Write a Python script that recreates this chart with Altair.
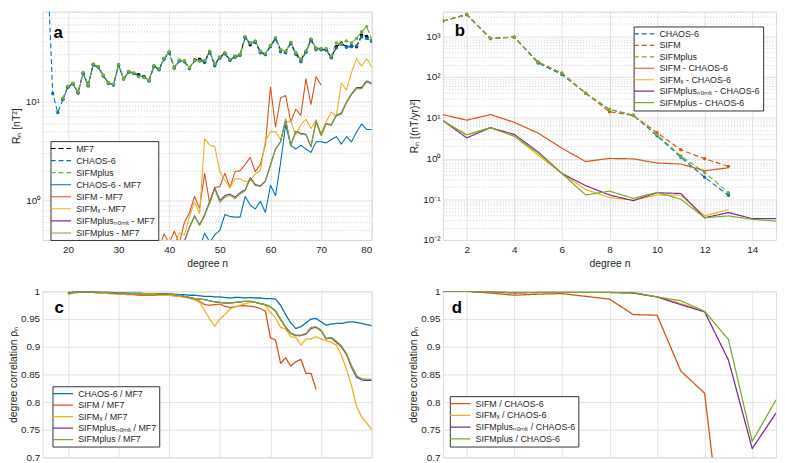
import altair as alt
import pandas as pd

FONT = "Liberation Sans"
TXT = "#262626"
GRID_MAJOR = "#dcdcdc"
GRID_MINOR = "#c4c4c4"
BLUE, ORANGE, YELLOW, PURPLE, GREEN, BLACK = "#0072BD", "#D95319", "#EDB120", "#7E2F8E", "#77AC30", "#000000"

# ---------------- panel a ----------------
a_n_mf7 = list(range(19, 81))
a_mf7 = [10.5, 14.0, 15.0, 12.2, 19.2, 14.3, 23.5, 22.1, 18.1, 15.3,
         14.7, 23.2, 16.8, 19.8, 19.1, 18.5, 17.8, 16.2, 22.6, 21.0,
         26.9, 31.2, 21.8, 25.7, 25.3, 21.5, 26.0, 26.5, 25.5, 31.6,
         23.5, 27.7, 30.5, 26.2, 28.3, 29.4, 44.2, 37.0, 40.0, 31.6,
         29.8, 36.1, 43.3, 32.8, 31.6, 38.9, 30.5, 26.2, 31.6, 42.0,
         34.0, 33.5, 33.0, 27.7, 35.4, 38.6, 35.4, 36.0, 35.4, 46.5,
         45.0, 41.0]
a_n_chaos = list(range(16, 81))
a_chaos = [200.0, 12.0, 7.7,
           10.4, 13.8, 15.0, 12.1, 19.0, 14.5, 23.2, 22.0, 18.0, 15.2,
           14.6, 23.0, 16.9, 19.6, 19.0, 18.0, 17.6, 16.0, 22.4, 20.8,
           26.5, 30.8, 21.6, 25.5, 25.0, 21.2, 25.5, 25.8, 24.5, 31.0,
           22.8, 27.2, 30.0, 25.8, 27.8, 29.0, 43.5, 38.6, 39.0, 30.8,
           29.5, 35.5, 42.5, 31.5, 30.8, 38.0, 29.8, 25.0, 31.0, 41.0,
           33.0, 33.0, 32.8, 27.4, 34.5, 37.5, 35.0, 35.5, 36.0, 44.5,
           43.0, 40.0]
a_n_sifmplus = list(range(19, 81))
a_sifmplus = [10.7, 14.2, 15.2, 12.4, 19.5, 14.6, 23.8, 22.4, 18.3, 15.5,
              14.9, 23.5, 17.0, 20.0, 19.3, 17.6, 17.3, 16.4, 22.9, 21.3,
              27.2, 31.5, 22.0, 26.0, 25.6, 21.8, 25.8, 25.3, 25.8, 32.0,
              23.8, 28.0, 30.8, 26.5, 28.6, 29.8, 44.8, 38.6, 40.5, 32.0,
              30.2, 36.5, 43.8, 33.2, 32.0, 39.3, 30.8, 26.5, 32.0, 42.5,
              34.3, 34.0, 34.0, 28.5, 38.6, 38.0, 40.6, 39.0, 43.0, 50.2,
              56.5, 42.0]
a_n_dchaos = list(range(46, 81))
a_dchaos = [0.33, 0.47, 0.38, 0.45, 0.50, 0.72, 0.69, 0.68, 0.68, 1.10,
            0.90, 0.82, 0.98, 0.76, 1.42, 1.12, 2.40, 5.80, 3.60, 3.30,
            3.60, 3.30, 3.05, 3.90, 3.90, 3.80, 4.10, 4.40, 3.70, 4.40,
            3.90, 4.90, 5.90, 5.20, 5.20]
a_n_dsifm = list(range(38, 71))
a_dsifm = [0.33, 0.46, 0.37, 0.49, 0.37, 0.60, 0.75, 1.10, 0.83, 1.88,
           0.93, 1.35, 1.38, 1.88, 1.35, 1.95, 2.00, 2.30, 2.72, 1.95,
           2.30, 3.66, 14.0, 5.50, 10.8, 11.4, 6.20, 8.30, 7.20, 16.8,
           9.30, 17.7, 14.5]
a_n_dsifmx = list(range(40, 81))
a_dsifmx = [0.42, 0.36, 0.47, 0.45, 0.69, 0.96, 0.74, 4.20, 3.60, 3.50,
            1.95, 1.60, 1.35, 1.65, 1.65, 1.55, 1.60, 1.85, 2.00, 4.00,
            4.90, 4.95, 4.10, 6.20, 6.30, 4.60, 5.80, 6.60, 5.30, 6.50,
            4.75, 6.20, 7.80, 7.10, 15.3, 13.0, 19.5, 26.9, 22.5, 26.9,
            22.0]
a_n_dplus = list(range(43, 81))
a_dnomlt = [0.39, 0.54, 0.70, 0.57, 0.72, 0.98, 1.34, 1.00, 1.12, 1.16,
            1.08, 1.20, 1.28, 1.70, 1.45, 1.40, 1.58, 2.30, 3.30, 3.90,
            6.45, 3.60, 4.98, 4.75, 4.65, 3.50, 6.20, 4.55, 5.95, 5.80,
            7.20, 7.60, 9.80, 11.9, 13.7, 13.8, 16.0, 15.2]
a_dplus = [0.38, 0.53, 0.69, 0.56, 0.70, 0.95, 1.30, 0.96, 1.08, 1.13,
           1.04, 1.16, 1.25, 1.65, 1.42, 1.38, 1.56, 2.26, 3.28, 3.95,
           6.65, 3.53, 4.94, 4.66, 4.58, 3.46, 6.40, 4.50, 5.90, 5.70,
           7.10, 7.40, 9.60, 11.6, 13.4, 13.4, 15.6, 14.8]

# ---------------- panel b ----------------
b_n13 = list(range(1, 14))
b_n15 = list(range(1, 16))
b_chaos = [2350, 3390, 877, 946, 220, 115, 39.7, 16.0, 11.5, 3.6, 1.07, 0.346, 0.125]
b_sifm = [2350, 3390, 877, 946, 232, 125, 39.7, 14.0, 11.3, 4.3, 1.63, 0.98, 0.64]
b_sifmplus = [2350, 3390, 877, 946, 232, 122, 40.0, 15.9, 11.5, 3.8, 1.15, 0.45, 0.145]
b_dsifm = [11.9, 8.7, 11.9, 7.7, 4.2, 1.79, 0.84, 1.0, 0.98, 0.77, 0.73, 0.50, 0.59]
b_dsifmx = [8.5, 3.8, 5.7, 3.5, 1.2, 0.43, 0.173, 0.11, 0.095, 0.127, 0.125, 0.039, 0.056]
b_dnomlt = [8.5, 3.2, 5.7, 3.9, 1.45, 0.43, 0.215, 0.127, 0.092, 0.144, 0.138, 0.035, 0.047, 0.0335, 0.0335]
b_dplus = [8.3, 3.8, 5.7, 3.5, 1.36, 0.43, 0.127, 0.158, 0.105, 0.147, 0.10, 0.035, 0.039, 0.032, 0.029]

# ---------------- panel c ----------------
c_n = list(range(20, 81))
c_n_sifm = list(range(20, 70))
c_chaos = [0.998, 0.999, 0.999, 0.999, 0.999, 0.999, 0.999, 0.998, 0.998, 0.998, 0.997,
           0.997, 0.997, 0.997, 0.997, 0.996, 0.996, 0.996, 0.996, 0.996, 0.995,
           0.995, 0.994, 0.994, 0.993, 0.993, 0.992, 0.991, 0.991, 0.990, 0.990,
           0.989, 0.988, 0.989, 0.989, 0.988, 0.989, 0.988, 0.988, 0.987, 0.987,
           0.986, 0.975, 0.958, 0.943, 0.933, 0.936, 0.943, 0.950, 0.951, 0.945,
           0.939, 0.941, 0.942, 0.942, 0.944, 0.945, 0.944, 0.942, 0.940, 0.938]
c_sifm = [0.995, 0.997, 0.998, 0.999, 0.998, 0.998, 0.997, 0.997, 0.996, 0.996, 0.995,
          0.995, 0.994, 0.994, 0.993, 0.993, 0.993, 0.993, 0.993, 0.993, 0.993,
          0.992, 0.991, 0.990, 0.988, 0.985, 0.982, 0.976, 0.975, 0.976, 0.977,
          0.973, 0.971, 0.972, 0.974, 0.974, 0.973, 0.972, 0.969, 0.964, 0.916,
          0.912, 0.870, 0.880, 0.865, 0.873, 0.877, 0.852, 0.852, 0.823]
c_sifmx = [0.996, 0.998, 0.998, 0.999, 0.999, 0.998, 0.998, 0.997, 0.997, 0.996, 0.996,
           0.995, 0.995, 0.995, 0.994, 0.994, 0.994, 0.994, 0.993, 0.993, 0.993,
           0.992, 0.991, 0.990, 0.988, 0.985, 0.980, 0.965, 0.950, 0.937, 0.950,
           0.958, 0.968, 0.972, 0.975, 0.978, 0.980, 0.980, 0.978, 0.975, 0.962,
           0.952, 0.935, 0.932, 0.918, 0.917, 0.903, 0.914, 0.914, 0.918, 0.914,
           0.911, 0.908, 0.903, 0.885, 0.860, 0.830, 0.792, 0.773, 0.762, 0.750]
c_nomlt = [0.997, 0.998, 0.999, 0.999, 0.999, 0.999, 0.998, 0.998, 0.998, 0.997, 0.997,
           0.997, 0.996, 0.996, 0.996, 0.996, 0.996, 0.996, 0.995, 0.995, 0.995,
           0.994, 0.993, 0.991, 0.989, 0.987, 0.986, 0.985, 0.983, 0.981, 0.980,
           0.979, 0.979, 0.980, 0.981, 0.982, 0.982, 0.980, 0.978, 0.976, 0.972,
           0.964, 0.949, 0.935, 0.924, 0.920, 0.920, 0.923, 0.933, 0.935, 0.929,
           0.914, 0.916, 0.908, 0.900, 0.886, 0.863, 0.845, 0.840, 0.839, 0.839]
c_plus = [0.997, 0.998, 0.999, 0.999, 0.999, 0.999, 0.998, 0.998, 0.998, 0.997, 0.997,
          0.997, 0.996, 0.996, 0.996, 0.996, 0.996, 0.996, 0.995, 0.995, 0.995,
          0.994, 0.993, 0.991, 0.989, 0.987, 0.986, 0.985, 0.983, 0.981, 0.980,
          0.979, 0.979, 0.980, 0.981, 0.982, 0.982, 0.980, 0.978, 0.976, 0.972,
          0.965, 0.950, 0.936, 0.925, 0.921, 0.921, 0.924, 0.935, 0.936, 0.930,
          0.915, 0.917, 0.910, 0.902, 0.888, 0.866, 0.848, 0.842, 0.841, 0.841]

# ---------------- panel d ----------------
d_n12 = list(range(1, 13))
d_n13 = list(range(1, 14))
d_n15 = list(range(1, 16))
d_sifm = [1.0, 1.0, 0.997, 0.993, 0.995, 0.996, 0.991, 0.986, 0.958, 0.957, 0.856, 0.816, 0.45]
d_sifmx = [1.0, 1.0, 0.999, 0.998, 0.998, 0.998, 0.998, 0.998, 0.997, 0.990, 0.978, 0.963]
d_nomlt = [1.0, 1.0, 0.999, 0.997, 0.998, 0.998, 0.998, 0.998, 0.997, 0.990, 0.976, 0.963, 0.876, 0.716, 0.780]
d_plus = [1.0, 1.0, 0.999, 0.998, 0.998, 0.998, 0.998, 0.998, 0.998, 0.990, 0.983, 0.964, 0.913, 0.729, 0.804]

panel_labels = ["a", "b", "c", "d"]

SUBX = "SIFM\u2093"
NOMLT = "SIFMplus\u2099\u2092\u2098\u2097\u209c"

DASH = [5, 3]
SOLID = [1, 0]


def long_df(defs):
    rows = []
    for name, ns, vals in defs:
        for n, v in zip(ns, vals):
            rows.append({"n": n, "value": v, "series": name})
    return pd.DataFrame(rows)


def log_values(lo, hi, kmin, kmax):
    out = []
    for k in range(kmin, kmax + 1):
        for m in range(1, 10):
            v = round(m * 10.0 ** k, 8)
            if lo - 1e-12 <= v <= hi + 1e-12:
                out.append(v)
    return out


def y_log_axis(major, labels, values, title):
    test = " || ".join(f"datum.value == {m}" for m in major)
    expr = " : ".join(f"datum.value == {m} ? '{lab}'" for m, lab in zip(major, labels)) + " : ''"
    return alt.Axis(values=values, labelExpr=expr, labelOverlap=False, grid=True,
                    gridColor={"condition": {"test": test, "value": GRID_MAJOR}, "value": GRID_MINOR},
                    gridDash={"condition": {"test": test, "value": []}, "value": [1, 2]},
                    labelFontSize={"condition": {"test": test, "value": 10}, "value": 0},
                    gridWidth=0.8, ticks=False, domain=False, title=title,
                    titleFontSize=10.5, labelPadding=3, titlePadding=3,
                    labelColor=TXT, titleColor=TXT, titleFontWeight="normal", labelFont=FONT, titleFont=FONT)


def y_lin_axis(title):
    return alt.Axis(values=[0.7, 0.75, 0.8, 0.85, 0.9, 0.95, 1.0],
                    labelExpr="format(datum.value, '.2~f')", grid=True, gridColor=GRID_MAJOR,
                    gridWidth=0.8, ticks=False, domain=False, title=title,
                    labelFontSize=10, titleFontSize=10.5, labelPadding=3, titlePadding=2,
                    labelColor=TXT, titleColor=TXT, titleFontWeight="normal", labelFont=FONT, titleFont=FONT)


def x_axis(values, show):
    if show:
        return alt.Axis(values=values, grid=True, gridColor=GRID_MAJOR, gridWidth=0.8, ticks=False,
                        domain=False, title="degree n", labelFontSize=10, titleFontSize=10.5,
                        labelPadding=5, titlePadding=4, labelColor=TXT, titleColor=TXT,
                        titleFontWeight="normal", labelFont=FONT, titleFont=FONT, labelAngle=0)
    return alt.Axis(values=values, grid=True, gridColor=GRID_MAJOR, gridWidth=0.8, ticks=False,
                    domain=False, labels=False, title=None)


def make_legend(x, y, row_pad):
    return alt.Legend(title=None, orient="none", legendX=x, legendY=y, fillColor="white",
                      strokeColor="#333333", padding=2, cornerRadius=0,
                      symbolType="M-2.3,0H2.3", symbolSize=81, symbolOffset=3, labelOffset=10,
                      labelFontSize=9, labelFont=FONT, labelColor=TXT, rowPadding=row_pad,
                      labelLimit=300, symbolOpacity=1)


def panel(df, names, colors, dashes, widths, xscale, yscale, xax, yax, legend, dotted, label, lxy, w, h):
    lines = alt.Chart(df).mark_line(clip=True, strokeJoin="round").encode(
        x=alt.X("n:Q", scale=xscale, axis=xax),
        y=alt.Y("value:Q", scale=yscale, axis=yax),
        color=alt.Color("series:N", scale=alt.Scale(domain=names, range=colors), legend=legend),
        strokeDash=alt.StrokeDash("series:N", scale=alt.Scale(domain=names, range=dashes), legend=legend),
        strokeWidth=alt.StrokeWidth("series:N", scale=alt.Scale(domain=names, range=widths), legend=legend),
    )
    layers = [lines]
    for name, col in dotted:
        pts = alt.Chart(df[df["series"] == name]).mark_point(filled=True, size=12, clip=True, opacity=1, strokeWidth=0).encode(
            x=alt.X("n:Q", scale=xscale, axis=xax),
            y=alt.Y("value:Q", scale=yscale, axis=yax),
            color=alt.value(col),
        )
        layers.append(pts)
    txt = alt.Chart(pd.DataFrame({"label": [label]})).mark_text(
        font=FONT, fontSize=17, fontWeight="bold", color="#000000", align="left", baseline="alphabetic"
    ).encode(x=alt.value(lxy[0]), y=alt.value(lxy[1]), text="label:N")
    layers.append(txt)
    return alt.layer(*layers).properties(width=w, height=h)


W_L, W_R, H_T, H_B = 333, 337, 231, 168

# panel a
a_names = ["MF7", "CHAOS-6", "SIFMplus", "CHAOS-6 - MF7", "SIFM - MF7", SUBX + " - MF7",
           NOMLT + " - MF7", "SIFMplus - MF7"]
df_a = long_df([
    ("MF7", a_n_mf7, a_mf7),
    ("CHAOS-6", a_n_chaos, a_chaos),
    ("SIFMplus", a_n_sifmplus, a_sifmplus),
    ("CHAOS-6 - MF7", a_n_dchaos, a_dchaos),
    ("SIFM - MF7", a_n_dsifm, a_dsifm),
    (SUBX + " - MF7", a_n_dsifmx, a_dsifmx),
    (NOMLT + " - MF7", a_n_dplus, a_dnomlt),
    ("SIFMplus - MF7", a_n_dplus, a_dplus),
])
chart_a = panel(
    df_a, a_names, [BLACK, BLUE, GREEN, BLUE, ORANGE, YELLOW, PURPLE, GREEN],
    [DASH, DASH, DASH, SOLID, SOLID, SOLID, SOLID, SOLID], [1.1, 1.1, 1.1, 1.2, 1.2, 1.2, 1.8, 1.8],
    alt.Scale(domain=[15, 80], nice=False, zero=False),
    alt.Scale(type="log", domain=[0.4, 80], nice=False),
    x_axis([20, 30, 40, 50, 60, 70, 80], True),
    y_log_axis([1, 10], ["10\u2070", "10\u00b9"], log_values(0.4, 80, -1, 1), "R\u2099 [nT\u00b2]"),
    make_legend(8, 131, 1.2),
    [("MF7", BLACK), ("CHAOS-6", BLUE), ("SIFMplus", GREEN)],
    panel_labels[0], (11, 27), W_L, H_T)

# panel b
b_names = ["CHAOS-6", "SIFM", "SIFMplus", "SIFM - CHAOS-6", SUBX + " - CHAOS-6",
           NOMLT + " - CHAOS-6", "SIFMplus - CHAOS-6"]
df_b = long_df([
    ("CHAOS-6", b_n13, b_chaos),
    ("SIFM", b_n13, b_sifm),
    ("SIFMplus", b_n13, b_sifmplus),
    ("SIFM - CHAOS-6", b_n13, b_dsifm),
    (SUBX + " - CHAOS-6", b_n13, b_dsifmx),
    (NOMLT + " - CHAOS-6", b_n15, b_dnomlt),
    ("SIFMplus - CHAOS-6", b_n15, b_dplus),
])
chart_b = panel(
    df_b, b_names, [BLUE, ORANGE, GREEN, ORANGE, YELLOW, PURPLE, GREEN],
    [DASH, DASH, DASH, SOLID, SOLID, SOLID, SOLID], [1.2, 1.2, 1.2, 1.3, 1.3, 1.3, 1.3],
    alt.Scale(domain=[1, 15], nice=False, zero=False),
    alt.Scale(type="log", domain=[0.01, 4000], nice=False),
    x_axis([2, 4, 6, 8, 10, 12, 14], True),
    y_log_axis([0.01, 0.1, 1, 10, 100, 1000],
               ["10\u207b\u00b2", "10\u207b\u00b9", "10\u2070", "10\u00b9", "10\u00b2", "10\u00b3"],
               log_values(0.01, 4000, -2, 3), "R\u2099 [(nT/yr)\u00b2]"),
    make_legend(193, 15, 0.6),
    [("CHAOS-6", BLUE), ("SIFM", ORANGE), ("SIFMplus", GREEN)],
    panel_labels[1], (12, 25), W_R, H_T)

# panel c
c_names = ["CHAOS-6 / MF7", "SIFM / MF7", SUBX + " / MF7", NOMLT + " / MF7", "SIFMplus / MF7"]
df_c = long_df([
    ("CHAOS-6 / MF7", c_n, c_chaos),
    ("SIFM / MF7", c_n_sifm, c_sifm),
    (SUBX + " / MF7", c_n, c_sifmx),
    (NOMLT + " / MF7", c_n, c_nomlt),
    ("SIFMplus / MF7", c_n, c_plus),
])
chart_c = panel(
    df_c, c_names, [BLUE, ORANGE, YELLOW, PURPLE, GREEN],
    [SOLID] * 5, [1.3, 1.3, 1.3, 2.0, 2.0],
    alt.Scale(domain=[15, 80], nice=False, zero=False),
    alt.Scale(domain=[0.7, 1.0], nice=False, zero=False),
    x_axis([20, 30, 40, 50, 60, 70, 80], False),
    y_lin_axis("degree correlation \u03c1\u2099"),
    make_legend(10, 96, 0.6),
    [], panel_labels[2], (12, 22), W_L, H_B)

# panel d
d_names = ["SIFM / CHAOS-6", SUBX + " / CHAOS-6", NOMLT + " / CHAOS-6", "SIFMplus / CHAOS-6"]
df_d = long_df([
    ("SIFM / CHAOS-6", d_n13, d_sifm),
    (SUBX + " / CHAOS-6", d_n12, d_sifmx),
    (NOMLT + " / CHAOS-6", d_n15, d_nomlt),
    ("SIFMplus / CHAOS-6", d_n15, d_plus),
])
chart_d = panel(
    df_d, d_names, [ORANGE, YELLOW, PURPLE, GREEN],
    [SOLID] * 4, [1.3, 1.3, 1.5, 1.5],
    alt.Scale(domain=[1, 15], nice=False, zero=False),
    alt.Scale(domain=[0.7, 1.0], nice=False, zero=False),
    x_axis([2, 4, 6, 8, 10, 12, 14], False),
    y_lin_axis("degree correlation \u03c1\u2099"),
    make_legend(7, 106, 0.9),
    [], panel_labels[3], (9, 22), W_R, H_B)

chart = alt.concat(chart_a, chart_b, chart_c, chart_d, columns=2,
                   spacing={"row": 52, "column": 72}).properties(
    bounds="flush", padding=0, background="white"
).resolve_scale(
    x="independent", y="independent", color="independent",
    strokeDash="independent", strokeWidth="independent"
).resolve_legend(
    color="independent", strokeDash="independent", strokeWidth="independent"
).configure_view(stroke="#333333", strokeWidth=1).configure(font=FONT)

chart.save("out.html", embed_options={"renderer": "svg", "actions": False})
